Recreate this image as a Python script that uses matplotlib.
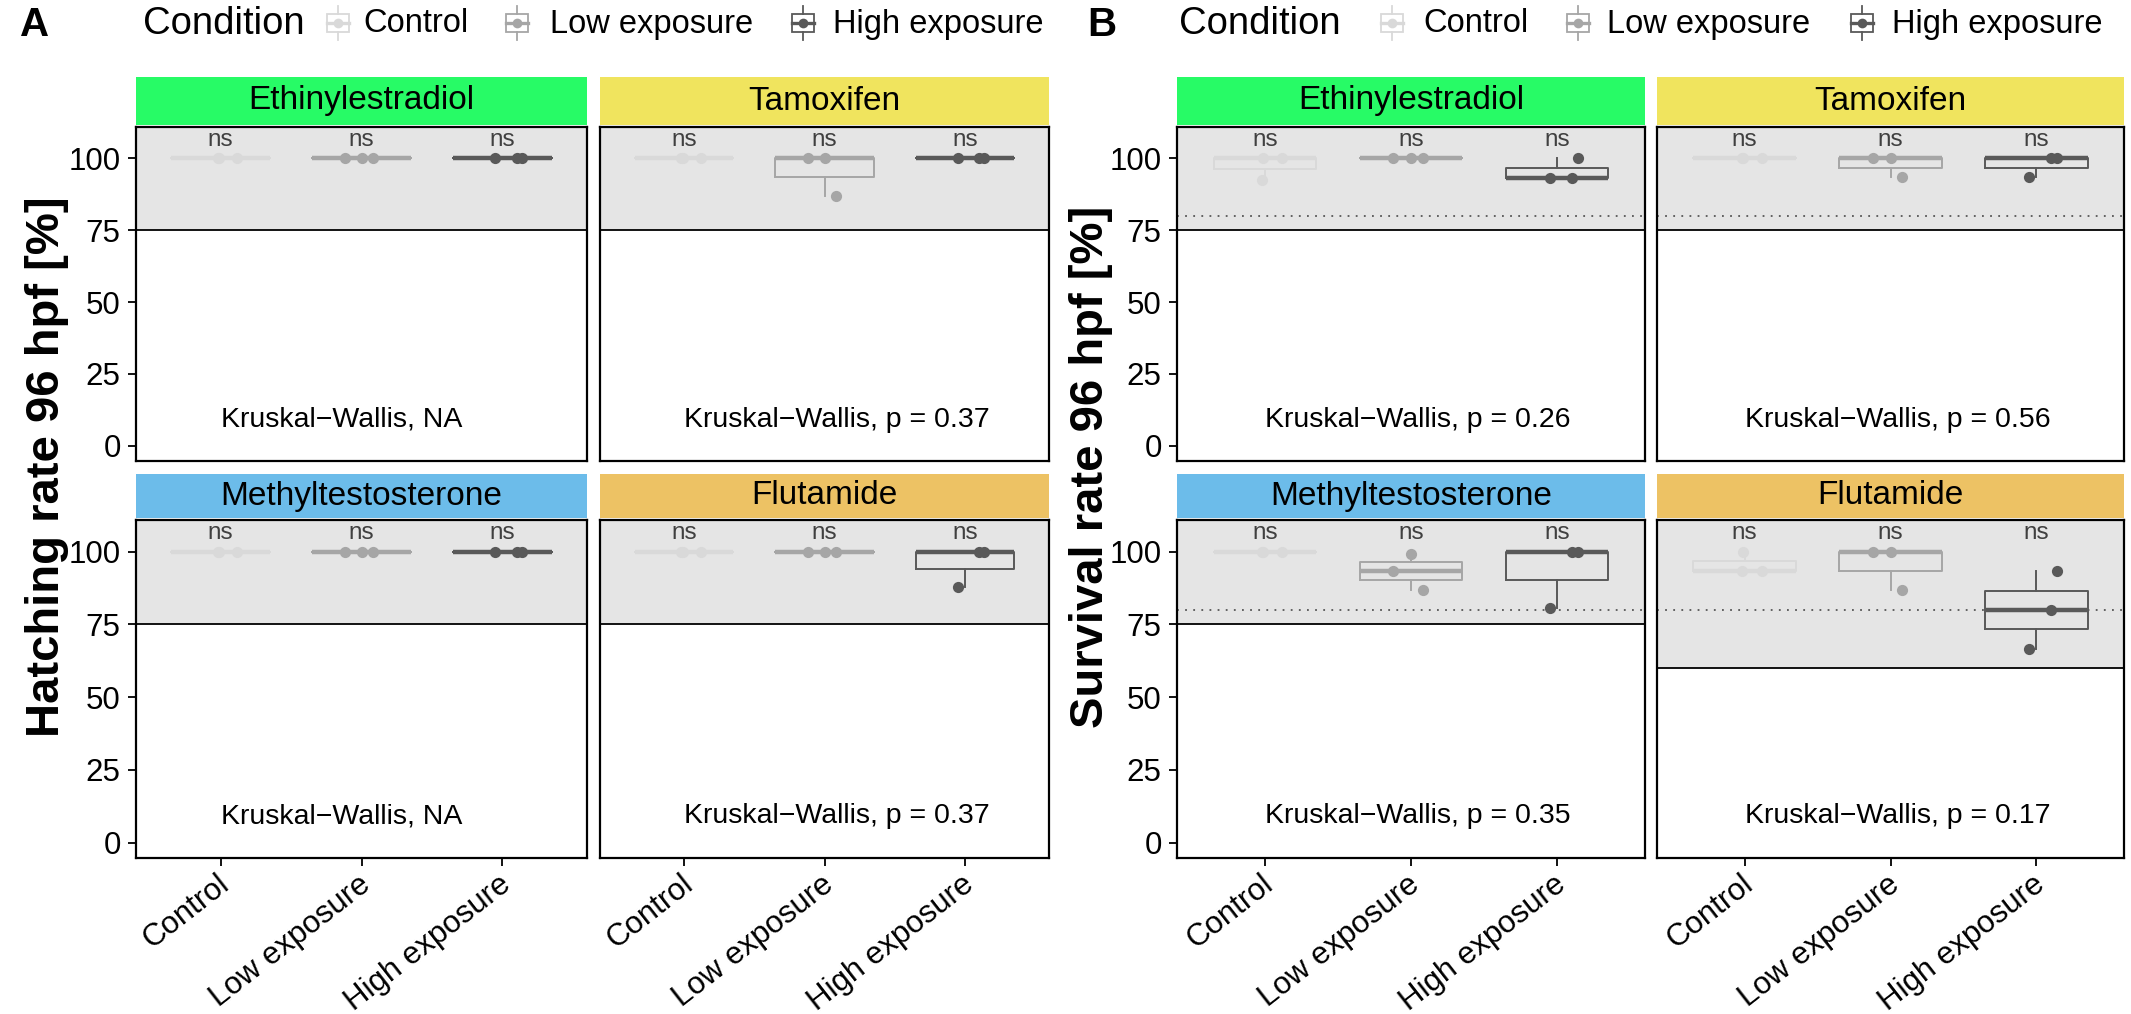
import matplotlib
matplotlib.use("Agg")
import matplotlib.pyplot as plt
from matplotlib.patches import Rectangle
import matplotlib.transforms as mtransforms
import numpy as np

plt.rcParams['font.family'] = ['Liberation Sans', 'DejaVu Sans']

W, H = 2131, 1014
DPI = 100

# ---------------- data ----------------
compounds = ["Ethinylestradiol", "Tamoxifen", "Methyltestosterone", "Flutamide"]
conditions = ["Control", "Low exposure", "High exposure"]
y_ticks = [0, 25, 50, 75, 100]

# Hatching rate 96 hpf [%]  (control, low, high) per compound
hatch_ethinylestradiol = [[100, 100, 100], [100, 100, 100], [100, 100, 100]]
hatch_tamoxifen = [[100, 100, 100], [87, 100, 100], [100, 100, 100]]
hatch_methyltestosterone = [[100, 100, 100], [100, 100, 100], [100, 100, 100]]
hatch_flutamide = [[100, 100, 100], [100, 100, 100], [88, 100, 100]]
hatch_labels = ["Kruskal\u2212Wallis, NA", "Kruskal\u2212Wallis, p = 0.37",
                "Kruskal\u2212Wallis, NA", "Kruskal\u2212Wallis, p = 0.37"]
hatch_signif = [["ns", "ns", "ns"]] * 4
hatch_rect_min = [75, 75, 75, 75]

# Survival rate 96 hpf [%]
surv_ethinylestradiol = [[92.5, 100, 100], [100, 100, 100], [93, 93, 100]]
surv_tamoxifen = [[100, 100, 100], [93.5, 100, 100], [93.5, 100, 100]]
surv_methyltestosterone = [[100, 100, 100], [87, 93.3, 99.3], [80.5, 100, 100]]
surv_flutamide = [[93.3, 93.3, 100], [86.7, 100, 100], [66.7, 80, 93.3]]
surv_labels = ["Kruskal\u2212Wallis, p = 0.26", "Kruskal\u2212Wallis, p = 0.56",
               "Kruskal\u2212Wallis, p = 0.35", "Kruskal\u2212Wallis, p = 0.17"]
surv_signif = [["ns", "ns", "ns"]] * 4
surv_rect_min = [75, 75, 75, 60]
surv_threshold = 80

# ---------------- style ----------------
strip_colors = ["#27FB66", "#F0E45E", "#6CBCEA", "#EDC264"]
cond_colors = ["#D9D9D9", "#A6A6A6", "#595959"]
jitter_patterns = [[-0.02, 0.12, -0.01], [0.08, -0.12, 0.0], [-0.05, 0.1, 0.14]]
YLIM = (-5.3, 110.9)

fig = plt.figure(figsize=(W / DPI, H / DPI), dpi=DPI)
fig.patch.set_facecolor("white")


def rect(x0, y0, x1, y1):
    return [x0 / W, 1 - y1 / H, (x1 - x0) / W, (y1 - y0) / H]


def draw_panel(box, strip_box, name, scolor, data, label, signif, rect_min,
               threshold, show_x, show_y):
    sax = fig.add_axes(rect(*strip_box))
    sax.set_facecolor(scolor)
    for s in sax.spines.values():
        s.set_visible(False)
    sax.set_xticks([]); sax.set_yticks([])
    sax.text(0.5, 0.5, name, ha="center", va="center", fontsize=24,
             transform=sax.transAxes)

    ax = fig.add_axes(rect(*box))
    ax.set_xlim(0.4, 3.6)
    ax.set_ylim(*YLIM)
    ax.add_patch(Rectangle((0, rect_min), 1, YLIM[1] - rect_min,
                           transform=ax.get_yaxis_transform(),
                           facecolor="#E5E5E5", edgecolor="black", lw=1.3,
                           zorder=0.5, clip_on=False))
    if threshold is not None:
        ax.axhline(threshold, color="#555555", lw=1.3, ls=(0, (1, 3.5)), zorder=0.8)
    for i, vals in enumerate(data):
        c = cond_colors[i]
        ax.boxplot([vals], positions=[i + 1], widths=0.7, whis=1.5,
                   showfliers=False, showcaps=False, manage_ticks=False,
                   boxprops=dict(color=c, lw=1.4),
                   whiskerprops=dict(color=c, lw=1.4),
                   medianprops=dict(color=c, lw=3.2, solid_capstyle="butt"),
                   zorder=2)
        offs = jitter_patterns[i % len(jitter_patterns)]
        ax.scatter([i + 1 + o for o in offs], vals, s=65, color=c, zorder=3,
                   linewidths=0)
        ax.text(i + 1, 106.5, signif[i], ha="center", va="center", fontsize=17.5,
                color="#404040")
    ax.text(1.0, 9, label, ha="left", va="center", fontsize=20.5)
    for s in ax.spines.values():
        s.set_linewidth(1.6)
        s.set_color("black")
        s.set_zorder(5)
    ax.set_yticks(y_ticks)
    ax.set_xticks([1, 2, 3])
    ax.tick_params(axis="both", length=6, width=1.3, color="black",
                   labelsize=22.5)
    ax.tick_params(axis="y", pad=5)
    ax.tick_params(axis="x", pad=2)
    if show_y:
        ax.set_yticklabels([str(t) for t in y_ticks])
    else:
        ax.tick_params(axis="y", left=False, labelleft=False)
    if show_x:
        labs = ax.set_xticklabels(conditions, rotation=38, ha="right", va="top",
                                  rotation_mode="anchor", fontsize=22.5)
        shift = mtransforms.ScaledTranslation(-4 / DPI, 0 / DPI, fig.dpi_scale_trans)
        for t in labs:
            t.set_transform(t.get_transform() + shift)
    else:
        ax.tick_params(axis="x", bottom=False, labelbottom=False)
    return ax


rows = [((127, 461), (77, 125)), ((520, 858), (474, 518))]
A_cols = [(136, 587), (600, 1049)]
B_cols = [(1177, 1645), (1657, 2124)]

hatch_data = [hatch_ethinylestradiol, hatch_tamoxifen, hatch_methyltestosterone, hatch_flutamide]
surv_data = [surv_ethinylestradiol, surv_tamoxifen, surv_methyltestosterone, surv_flutamide]

for k in range(4):
    r, c = divmod(k, 2)
    (py0, py1), (sy0, sy1) = rows[r]
    x0, x1 = A_cols[c]
    draw_panel((x0, py0, x1, py1), (x0, sy0, x1, sy1), compounds[k], strip_colors[k],
               hatch_data[k], hatch_labels[k], hatch_signif[k], hatch_rect_min[k],
               None, r == 1, c == 0)
    x0, x1 = B_cols[c]
    draw_panel((x0, py0, x1, py1), (x0, sy0, x1, sy1), compounds[k], strip_colors[k],
               surv_data[k], surv_labels[k], surv_signif[k], surv_rect_min[k],
               surv_threshold, r == 1, c == 0)

# ---------------- overlay: legends, labels ----------------
ov = fig.add_axes([0, 0, 1, 1])
ov.set_xlim(0, W)
ov.set_ylim(H, 0)
ov.axis("off")


def legend(x_title, key_x, text_x, cy=23):
    ov.text(x_title, cy + 1, "Condition", fontsize=27.5, ha="left", va="center")
    for i in range(3):
        c = cond_colors[i]
        kx = key_x[i]
        ov.add_patch(Rectangle((kx - 11, cy - 9), 22, 18, facecolor="white",
                               edgecolor=c, lw=1.3))
        ov.plot([kx, kx], [cy - 17, cy - 9], color=c, lw=1.3)
        ov.plot([kx, kx], [cy + 9, cy + 17], color=c, lw=1.3)
        ov.plot([kx - 11, kx + 11], [cy, cy], color=c, lw=2.4)
        ov.plot([kx], [cy], "o", color=c, ms=7, mew=0)
        ov.text(text_x[i], cy + 1, conditions[i], fontsize=23.5, ha="left", va="center")


legend(143, [338, 517, 803], [363, 550, 833])
legend(1179, [1392, 1578, 1862], [1423, 1607, 1892])

ov.text(20, 25, "A", fontsize=29, fontweight="bold", ha="left", va="center")
ov.text(1087, 25, "B", fontsize=29, fontweight="bold", ha="left", va="center")
ov.text(47, 467, "Hatching rate 96 hpf [%]", fontsize=34, fontweight="bold",
        rotation=90, ha="center", va="center")
ov.text(1091, 467, "Survival rate 96 hpf [%]", fontsize=34, fontweight="bold",
        rotation=90, ha="center", va="center")

fig.savefig("out.png", dpi=DPI, facecolor="white")
